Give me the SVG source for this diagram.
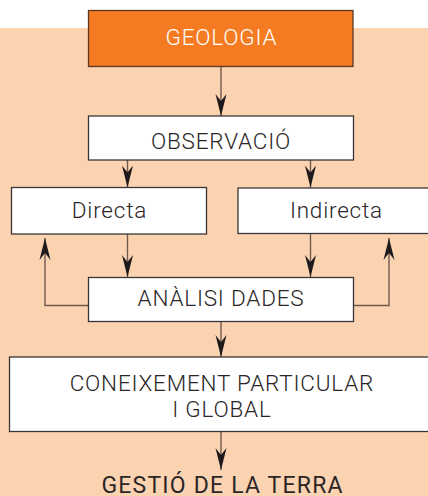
<svg xmlns="http://www.w3.org/2000/svg" width="428" height="496" viewBox="0 0 428 496">
<defs>
<style>
.bg{fill:#fcd3b1}
.box{fill:#ffffff;stroke:#3a3535;stroke-width:1.3}
.top{fill:#f47b22;stroke:#5a3a25;stroke-width:1.3}
.t{font-family:Roboto,"Liberation Sans",Arial,sans-serif;font-weight:300;font-size:22.5px;letter-spacing:0.8px;fill:#2a2627;text-anchor:middle}
.tw{fill:#ffffff}
.c{fill:none;stroke:#6e5a4e;stroke-width:1.4}
</style>
<marker id="ah" viewBox="0 0 22 12" refX="22" refY="6" markerWidth="22" markerHeight="12" markerUnits="userSpaceOnUse" orient="auto">
<path d="M22,6 L0,0.5 L7,6 L0,11.5 Z" fill="#1e1a1b"/>
</marker>
</defs>
<rect x="0" y="0" width="428" height="496" fill="#ffffff"/>
<rect class="bg" x="0" y="28" width="428" height="468"/>
<g id="connectors">
<line class="c" x1="221" y1="67" x2="221" y2="116" marker-end="url(#ah)"/>
<line class="c" x1="127.5" y1="160" x2="127.5" y2="187.5" marker-end="url(#ah)"/>
<line class="c" x1="310.5" y1="160" x2="310.5" y2="187.5" marker-end="url(#ah)"/>
<line class="c" x1="127.5" y1="234" x2="127.5" y2="277" marker-end="url(#ah)"/>
<line class="c" x1="310.5" y1="234" x2="310.5" y2="277" marker-end="url(#ah)"/>
<polyline class="c" points="88.5,305.5 45,305.5 45,238" marker-end="url(#ah)"/>
<polyline class="c" points="354,305.5 389,305.5 389,238" marker-end="url(#ah)"/>
<line class="c" x1="221" y1="321.5" x2="221" y2="357" marker-end="url(#ah)"/>
<line class="c" x1="221" y1="431.5" x2="221" y2="470" marker-end="url(#ah)"/>
</g>
<g id="geologia">
<rect class="top" x="88.5" y="10.5" width="264.5" height="56"/>
<text class="t tw" x="221.4" y="45">GEOLOGIA</text>
</g>
<g id="observacio">
<rect class="box" x="88.5" y="116" width="265" height="44"/>
<text class="t" x="221" y="148.5">OBSERVACIÓ</text>
</g>
<g id="directa">
<rect class="box" x="11.5" y="187.5" width="195" height="46.5"/>
<text class="t" x="109.4" y="218">Directa</text>
</g>
<g id="indirecta">
<rect class="box" x="238" y="188" width="200" height="45.5"/>
<text class="t" x="336.4" y="218">Indirecta</text>
</g>
<g id="analisi">
<rect class="box" x="88.5" y="277.5" width="265" height="44"/>
<text class="t" x="221" y="306">ANÀLISI DADES</text>
</g>
<g id="coneixement">
<rect class="box" x="9.5" y="357" width="430" height="74.5"/>
<text class="t" x="221.9" y="390.5">CONEIXEMENT PARTICULAR</text>
<text class="t" x="221.9" y="417">I GLOBAL</text>
</g>
<g id="gestio">
<text class="t" x="222.6" y="492.5" style="font-size:23px;font-weight:400;letter-spacing:1.2px">GESTIÓ DE LA TERRA</text>
</g>
</svg>
